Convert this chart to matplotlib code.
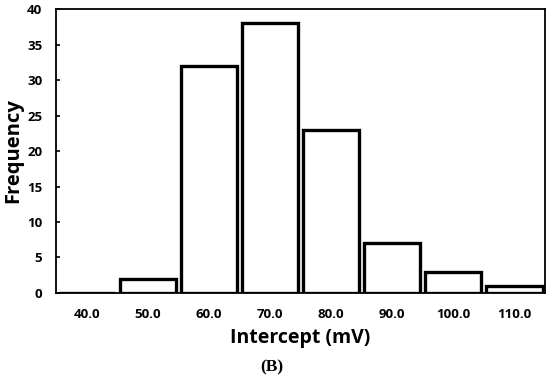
import numpy as np
import matplotlib.pyplot as plt

# histogram of intercepts
bins = ['40.0', '50.0', '60.0', '70.0', '80.0', '90.0', '100.0', '110.0']
freq = [0, 2, 32, 38, 23, 7, 3, 1]
yticks = [0, 5, 10, 15, 20, 25, 30, 35, 40]

plt.rcParams['font.family'] = ['Open Sans', 'DejaVu Sans']

fig = plt.figure(figsize=(5.5, 3.79), dpi=100)
ax = fig.add_axes([0.102, 0.227, 0.889, 0.749])

x = np.arange(len(bins))
ax.bar(x, freq, width=0.92, color='white', edgecolor='black', linewidth=2.4)

ax.set_xlim(-0.5, len(bins) - 0.5)
ax.set_ylim(0, 40)
ax.set_yticks(yticks)
ax.set_xticks(x)
ax.set_xticklabels(bins, fontsize=9.5, fontweight='bold')
ax.set_yticklabels([str(v) for v in yticks], fontsize=9.5, fontweight='bold')
ax.tick_params(axis='y', direction='in', length=3, width=1.2, pad=10)
ax.tick_params(axis='x', length=0, pad=11)
for s in ax.spines.values():
    s.set_linewidth(1.3)

ax.set_xlabel('Intercept (mV)', fontsize=14, fontweight='bold', labelpad=5)
ax.set_ylabel('Frequency', fontsize=14.5, fontweight='bold', labelpad=3)

fig.text(0.495, 0.03, '(B)', fontsize=12.5, fontweight='bold',
         family='Liberation Serif', ha='center', va='center')

fig.savefig('out.png', dpi=100)
